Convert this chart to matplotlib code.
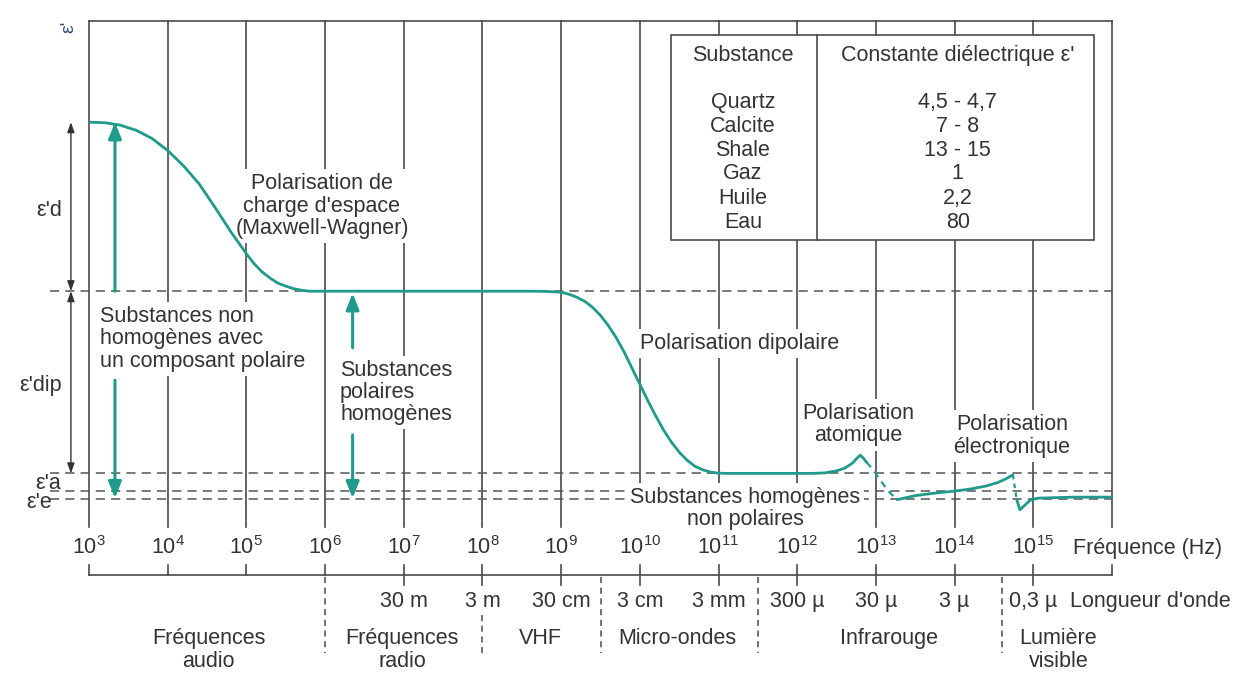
import matplotlib
matplotlib.use("Agg")
import matplotlib.pyplot as plt
from matplotlib.patches import Rectangle

plt.rcParams['font.family'] = ['Liberation Sans', 'DejaVu Sans']
plt.rcParams['mathtext.fontset'] = 'custom'
plt.rcParams['mathtext.rm'] = 'Liberation Sans'
plt.rcParams['mathtext.it'] = 'Liberation Sans:italic'

# ---- data -------------------------------------------------------------
decades = list(range(3, 16))                      # log10 of frequency (Hz)
wavelength_ticks = [7, 8, 9, 10, 11, 12, 13, 14, 15]
wavelength_labels = ["30 m", "3 m", "30 cm", "3 cm", "3 mm", "300 µ", "30 µ", "3 µ", "0,3 µ"]
band_edges = [6.0, 8.0, 9.5, 11.5, 14.6]
band_names = ["Fréquences\naudio", "Fréquences\nradio", "VHF", "Micro-ondes",
              "Infrarouge", "Lumière\nvisible"]
band_centers = [4.52, 6.98, 8.73, 10.47, 13.17, 15.32]

# permittivity levels (arbitrary units)
eps_static = 40.0
eps_dip_level = 23.3
eps_a = 5.3
eps_e_upper = 3.56
eps_e = 2.77

# real part of permittivity vs log10(frequency)
mw_logf = [3.0, 3.2, 3.4, 3.6, 3.8, 4.0, 4.2, 4.4, 4.6, 4.8, 5.0, 5.1, 5.2, 5.3,
           5.4, 5.5, 5.6, 5.7, 5.8, 6.0]
mw_eps = [40.0, 39.95, 39.7, 39.2, 38.4, 37.2, 35.7, 33.9, 31.6, 29.2, 27.0, 26.0,
          25.2, 24.6, 24.1, 23.8, 23.55, 23.4, 23.3, 23.3]

dip_logf = [6.0, 8.6, 8.8, 9.0, 9.1, 9.2, 9.3, 9.4, 9.5, 9.6, 9.7, 9.8, 9.9, 10.0,
            10.1, 10.2, 10.3, 10.4, 10.5, 10.6, 10.7, 10.8, 10.9, 11.0, 11.1,
            12.2, 12.35, 12.5, 12.6, 12.7, 12.76, 12.8, 12.84, 12.88]
dip_eps = [23.3, 23.3, 23.28, 23.2, 23.0, 22.7, 22.3, 21.7, 20.9, 19.9, 18.7, 17.3,
           15.7, 14.1, 12.5, 11.0, 9.6, 8.4, 7.4, 6.6, 6.0, 5.65, 5.42, 5.32, 5.3,
           5.3, 5.35, 5.55, 5.8, 6.3, 6.8, 7.1, 6.8, 6.4]

atom_drop_logf = [12.88, 12.96, 13.05, 13.15, 13.27]
atom_drop_eps = [6.4, 5.7, 4.7, 3.6, 2.7]

elec_logf = [13.27, 13.5, 13.75, 14.0, 14.2, 14.4, 14.55, 14.65, 14.74]
elec_eps = [2.7, 3.1, 3.35, 3.55, 3.75, 4.05, 4.4, 4.75, 5.15]

elec_drop_logf = [14.74, 14.79]
elec_drop_eps = [5.15, 2.7]

tail_logf = [14.79, 14.83, 14.96, 15.06, 15.5, 16.0]
tail_eps = [2.7, 1.7, 2.65, 2.85, 2.95, 2.95]

table_substances = ["Quartz", "Calcite", "Shale", "Gaz", "Huile", "Eau"]
table_values = ["4,5 - 4,7", "7 - 8", "13 - 15", "1", "2,2", "80"]

# ---- styles -----------------------------------------------------------
TEAL = "#1f9a8b"
GRID = "#4a4a4a"
TXT = "#333333"
FS = 15.5

fig = plt.figure(figsize=(12.49, 6.75), dpi=100)
fig.patch.set_facecolor("white")
ax = fig.add_axes([89 / 1249, 1 - 527 / 675, (1112 - 89) / 1249, (527 - 21) / 675])
ax.set_xlim(3, 16)
ax.set_ylim(0, 50)
ax.axis("off")

# frame and decade grid
ax.plot([3, 16], [50, 50], color=GRID, lw=1.2, clip_on=False, zorder=1)
for x in [3] + decades[1:] + [16]:
    ax.plot([x, x], [0, 50], color=GRID, lw=1.2, clip_on=False, zorder=1)

# level lines
dash = dict(color="#555555", lw=1.1, linestyle=(0, (6, 4)), clip_on=False, zorder=1)
for lvl in [eps_dip_level, eps_a, eps_e_upper, eps_e]:
    ax.plot([2.5, 16], [lvl, lvl], **dash)

# curve
line_kw = dict(color=TEAL, lw=2.0, solid_capstyle="round", solid_joinstyle="round", zorder=4)
ax.plot(mw_logf, mw_eps, **line_kw)
ax.plot(dip_logf, dip_eps, **line_kw)
ax.plot(elec_logf, elec_eps, **line_kw)
ax.plot(tail_logf, tail_eps, **line_kw)
ax.plot(atom_drop_logf, atom_drop_eps, color=TEAL, lw=1.6, linestyle=(0, (3, 2.5)), zorder=4)
ax.plot(elec_drop_logf, elec_drop_eps, color=TEAL, lw=1.6, linestyle=(0, (2, 2)), zorder=4)

# black double arrows for the permittivity contributions
for lo, hi in [(eps_dip_level, eps_static), (eps_a, eps_dip_level)]:
    ax.annotate("", xy=(2.77, hi), xytext=(2.77, lo), annotation_clip=False,
                arrowprops=dict(arrowstyle="<|-|>,head_length=0.5,head_width=0.18",
                                mutation_scale=12, color="#333333", lw=1.0,
                                shrinkA=0, shrinkB=0))

# teal arrows for the substance groups
teal_arrow = dict(arrowstyle="-|>,head_length=0.7,head_width=0.28", mutation_scale=14,
                  color=TEAL, lw=2.2, shrinkA=0, shrinkB=0)
ax.annotate("", xy=(3.33, eps_static), xytext=(3.33, eps_dip_level), arrowprops=teal_arrow)
ax.annotate("", xy=(3.33, 2.85), xytext=(3.33, 14.5), arrowprops=teal_arrow)
ax.annotate("", xy=(6.35, 23.1), xytext=(6.35, 17.7), arrowprops=teal_arrow)
ax.annotate("", xy=(6.35, 2.85), xytext=(6.35, 9.1), arrowprops=teal_arrow)

# left labels
lab = dict(fontsize=FS, color=TXT, ha="right", va="center")
ax.text(2.66, 31.3, "ε'd", **lab)
ax.text(2.66, 14.0, "ε'dip", **lab)
ax.text(2.64, 4.25, "ε'a", **lab)
ax.text(2.53, 2.4, "ε'e", **lab)
ax.text(2.74, 49.4, "ε'", fontsize=14, color="#3a4a78", rotation=90, ha="center", va="center")

# annotations inside the chart
box = dict(facecolor="white", edgecolor="none", pad=3)
ann = dict(fontsize=FS, color=TXT, linespacing=1.08, bbox=box, zorder=3)
ax.text(5.96, 31.7, "Polarisation de\ncharge d'espace\n(Maxwell-Wagner)",
        ha="center", va="center", **ann)
ax.text(3.14, 18.6, "Substances non\nhomogènes avec\nun composant polaire",
        ha="left", va="center", **ann)
ax.text(6.19, 13.3, "Substances\npolaires\nhomogènes", ha="left", va="center", **ann)
ax.text(11.27, 18.1, "Polarisation dipolaire", ha="center", va="center", **ann)
ax.text(12.77, 10.1, "Polarisation\natomique", ha="center", va="center", **ann)
ax.text(14.73, 9.0, "Polarisation\nélectronique", ha="center", va="center", **ann)
ax.text(11.34, 1.85, "Substances homogènes\nnon polaires", ha="center", va="center",
        clip_on=False, **ann)

# dielectric constant table
tx0, tx1, tdiv, ty0, ty1 = 10.395, 15.77, 12.25, 28.36, 48.6
ax.add_patch(Rectangle((tx0, ty0), tx1 - tx0, ty1 - ty0, facecolor="white",
                       edgecolor=GRID, lw=1.2, zorder=5))
ax.plot([tdiv, tdiv], [ty0, ty1], color=GRID, lw=1.2, zorder=6)
tkw = dict(fontsize=FS, color=TXT, ha="center", va="center", zorder=7)
ax.text(11.31, 46.6, "Substance", **tkw)
ax.text(14.04, 46.6, "Constante diélectrique ε'", **tkw)
row_y = [41.9, 39.55, 37.25, 34.9, 32.45, 30.1]
for name, val, y in zip(table_substances, table_values, row_y):
    ax.text(11.31, y, name, **tkw)
    ax.text(14.04, y, val, **tkw)

# frequency / wavelength scale below the chart
y_axis = -4.74
ax.plot([3, 16], [y_axis, y_axis], color=GRID, lw=1.2, clip_on=False)
for x in [3] + decades[1:] + [16]:
    lo = -5.73 if x in wavelength_ticks else y_axis
    ax.plot([x, x], [-3.75, lo], color=GRID, lw=1.2, clip_on=False)
for d in decades:
    ax.text(d, -2.08, r"$\mathregular{10^{%d}}$" % d, fontsize=FS, color=TXT,
            ha="center", va="center")
ax.text(15.5, -2.08, "Fréquence (Hz)", fontsize=FS, color=TXT, ha="left", va="center")

for x, lbl in zip(wavelength_ticks, wavelength_labels):
    ax.text(x, -7.41, lbl, fontsize=FS, color=TXT, ha="center", va="center")
ax.text(15.47, -7.41, "Longueur d'onde", fontsize=FS, color=TXT, ha="left", va="center")

for x in band_edges:
    top = -8.7 if x in wavelength_ticks else -4.9
    ax.plot([x, x], [top, -12.45], color=GRID, lw=1.1, linestyle=(0, (4, 3)),
            clip_on=False)
for x, name in zip(band_centers, band_names):
    y = -12.15 if "\n" in name else -10.97
    ax.text(x, y, name, fontsize=FS, color=TXT, ha="center", va="center", linespacing=1.08)

fig.savefig("out.png", dpi=100, facecolor="white")
